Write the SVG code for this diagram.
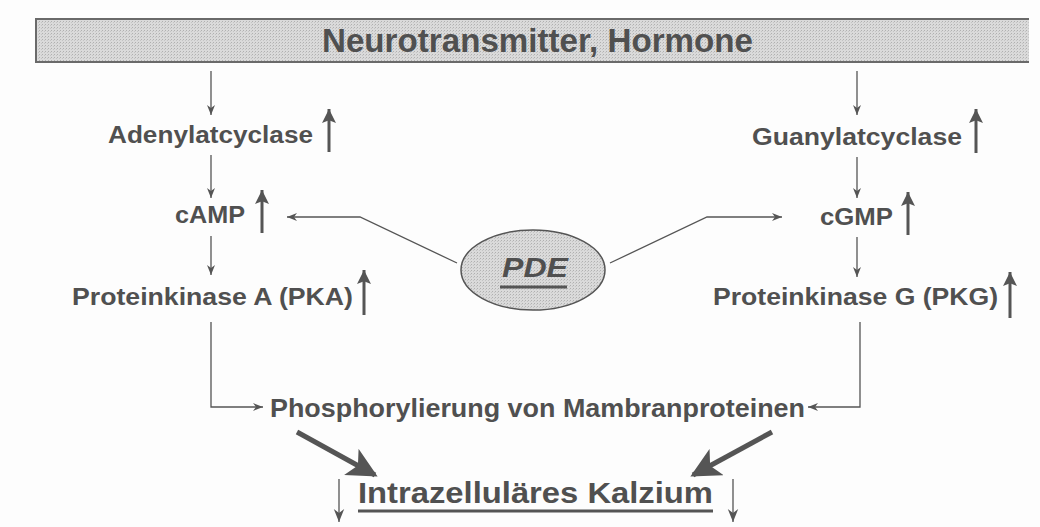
<svg xmlns="http://www.w3.org/2000/svg" width="1040" height="527" viewBox="0 0 1040 527">
<defs>
<pattern id="hatch" width="3" height="3" patternUnits="userSpaceOnUse">
<rect width="3" height="3" fill="#dadada"/>
<rect width="1" height="1" fill="#b0b0b0"/>
<rect x="2" y="1" width="1" height="1" fill="#c4c4c4"/>
</pattern>
<marker id="ah" viewBox="0 0 10 10" refX="10" refY="5" markerWidth="10" markerHeight="10" markerUnits="userSpaceOnUse" orient="auto">
<path d="M0,1 L10,5 L0,9 L3,5 Z" fill="#555"/>
</marker>
<marker id="ahk" viewBox="0 0 10 10" refX="10" refY="5" markerWidth="13" markerHeight="13" markerUnits="userSpaceOnUse" orient="auto">
<path d="M0,1 L10,5 L0,9 L3,5 Z" fill="#555"/>
</marker>
<marker id="ahb" viewBox="0 0 10 10" refX="9" refY="5" markerWidth="30" markerHeight="30" markerUnits="userSpaceOnUse" orient="auto">
<path d="M0,0 L10,5 L0,10 L2.5,5 Z" fill="#555"/>
</marker>
<marker id="up" viewBox="0 0 10 10" refX="10" refY="5" markerWidth="14" markerHeight="14" markerUnits="userSpaceOnUse" orient="auto">
<path d="M0,0 L10,5 L0,10 L2,5 Z" fill="#555"/>
</marker>
</defs>
<style>
.t{font-family:"Liberation Sans",Arial,sans-serif;font-weight:bold;fill:#505050;}
.c{fill:none;stroke:#555;stroke-width:1.3;}
.u{fill:none;stroke:#555;stroke-width:3;}
.k{fill:none;stroke:#555;stroke-width:5;}
</style>
<rect width="1040" height="527" fill="#fdfdfd"/>
<g id="banner">
<rect x="36" y="19" width="993" height="43" fill="url(#hatch)"/>
<polyline points="1029,19 36,19 36,62 1029,62" fill="none" stroke="#6a6a6a" stroke-width="2"/>
<text class="t" x="322" y="52" font-size="34" textLength="431" lengthAdjust="spacingAndGlyphs">Neurotransmitter, Hormone</text>
</g>
<g id="adenylatcyclase">
<text class="t" x="108" y="143" font-size="23" textLength="205" lengthAdjust="spacingAndGlyphs">Adenylatcyclase</text>
<line class="u" x1="329" y1="152" x2="329" y2="109" marker-end="url(#up)"/>
</g>
<g id="camp">
<text class="t" x="175" y="223" font-size="23" textLength="70" lengthAdjust="spacingAndGlyphs">cAMP</text>
<line class="u" x1="262" y1="233" x2="262" y2="190" marker-end="url(#up)"/>
</g>
<g id="pka">
<text class="t" x="72" y="305" font-size="23" textLength="281" lengthAdjust="spacingAndGlyphs">Proteinkinase A (PKA)</text>
<line class="u" x1="364" y1="315" x2="364" y2="270" marker-end="url(#up)"/>
</g>
<g id="guanylatcyclase">
<text class="t" x="752" y="145" font-size="23" textLength="210" lengthAdjust="spacingAndGlyphs">Guanylatcyclase</text>
<line class="u" x1="976" y1="153" x2="976" y2="109" marker-end="url(#up)"/>
</g>
<g id="cgmp">
<text class="t" x="820" y="225" font-size="23" textLength="73" lengthAdjust="spacingAndGlyphs">cGMP</text>
<line class="u" x1="908" y1="235" x2="908" y2="192" marker-end="url(#up)"/>
</g>
<g id="pkg">
<text class="t" x="713" y="305" font-size="23" textLength="285" lengthAdjust="spacingAndGlyphs">Proteinkinase G (PKG)</text>
<line class="u" x1="1010" y1="318" x2="1010" y2="272" marker-end="url(#up)"/>
</g>
<g id="pde">
<ellipse cx="533" cy="270" rx="72" ry="40" fill="url(#hatch)" stroke="#555" stroke-width="1.5"/>
<text class="t" x="502" y="277" font-size="28" font-style="italic" textLength="66" lengthAdjust="spacingAndGlyphs">PDE</text>
<line x1="500" y1="287" x2="567" y2="287" stroke="#555" stroke-width="3"/>
</g>
<g id="phosphorylierung">
<text class="t" x="270" y="417" font-size="26" textLength="535" lengthAdjust="spacingAndGlyphs">Phosphorylierung von Mambranproteinen</text>
</g>
<g id="kalzium">
<text class="t" x="358" y="503" font-size="29" textLength="355" lengthAdjust="spacingAndGlyphs">Intrazelluläres Kalzium</text>
<line x1="358" y1="511" x2="713" y2="511" stroke="#555" stroke-width="3"/>
<line class="c" stroke-width="2.2" x1="339" y1="479" x2="339" y2="522" marker-end="url(#ahk)"/>
<line class="c" stroke-width="2.2" x1="733" y1="479" x2="733" y2="522" marker-end="url(#ahk)"/>
</g>
<g id="connectors">
<line class="c" x1="211" y1="71" x2="211" y2="115" marker-end="url(#ah)"/>
<line class="c" x1="211" y1="155" x2="211" y2="198" marker-end="url(#ah)"/>
<line class="c" x1="211" y1="236" x2="211" y2="275" marker-end="url(#ah)"/>
<line class="c" x1="857" y1="71" x2="857" y2="115" marker-end="url(#ah)"/>
<line class="c" x1="857" y1="157" x2="857" y2="198" marker-end="url(#ah)"/>
<line class="c" x1="857" y1="237" x2="857" y2="277" marker-end="url(#ah)"/>
<polyline class="c" points="211,322 211,407 263,407" marker-end="url(#ah)"/>
<polyline class="c" points="860,322 860,407 808,407" marker-end="url(#ah)"/>
<polyline class="c" points="457,263 360,217 287,217" marker-end="url(#ah)"/>
<polyline class="c" points="610,263 707,217 782,217" marker-end="url(#ah)"/>
<line class="k" x1="297" y1="432" x2="375" y2="475" marker-end="url(#ahb)"/>
<line class="k" x1="772" y1="432" x2="693" y2="475" marker-end="url(#ahb)"/>
</g>
</svg>
